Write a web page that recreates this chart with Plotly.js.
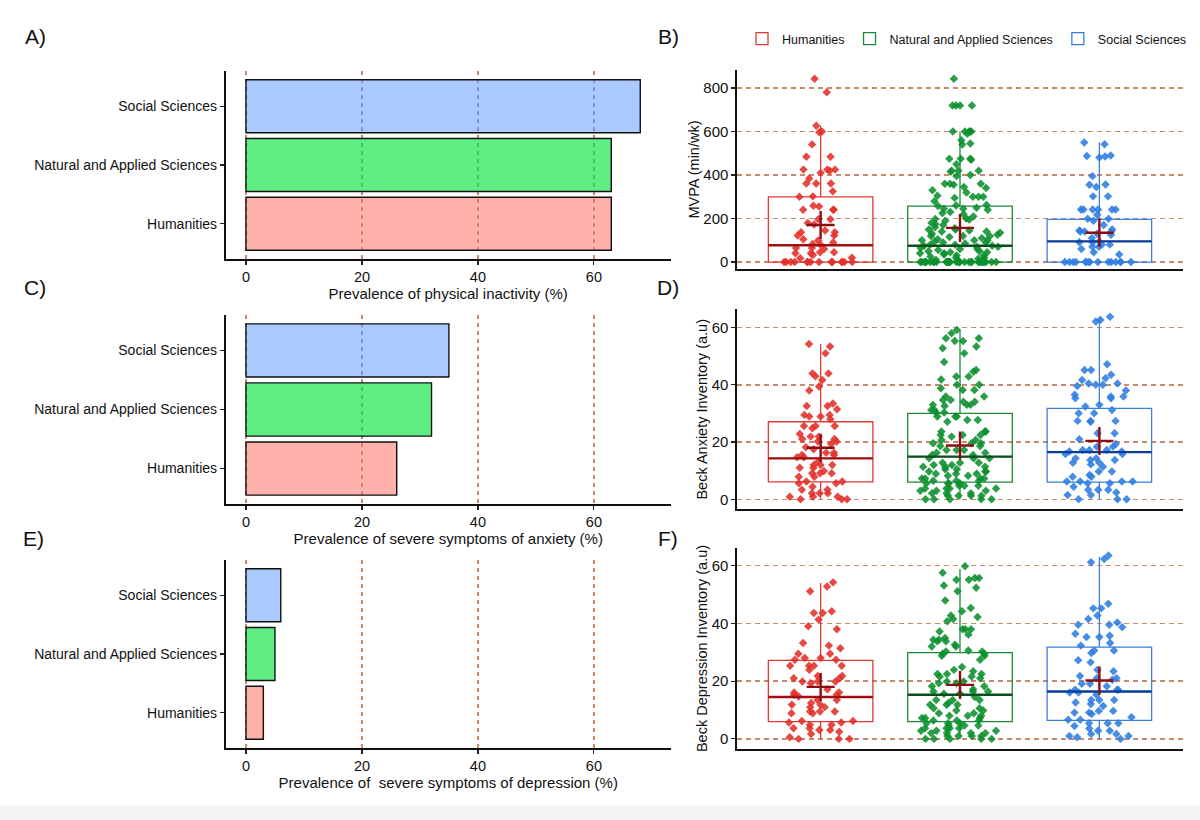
<!DOCTYPE html>
<html>
<head>
<meta charset="utf-8">
<script src="https://cdn.plot.ly/plotly-3.0.1.min.js"></script>
<style>html,body{margin:0;padding:0;background:#fff;}#chart{width:1200px;height:820px;}</style>
</head>
<body>
<div id="chart"></div>
<script>
// ---------- data ----------
const groups = ['Humanities', 'Natural and Applied Sciences', 'Social Sciences'];
const inactivityPrev = [63, 63, 68];
const anxietyPrev = [26, 32, 35];
const depressionPrev = [3, 5, 6];
const barTicks = [0, 20, 40, 60];
const mvpaTicks = [0, 200, 400, 600, 800];
const beckTicks = [0, 20, 40, 60];

// MVPA (min/wk) – box statistics
const mvpaQ1 = [0, 0, 0];
const mvpaMedian = [77, 75, 95];
const mvpaQ3 = [300, 257, 196];
const mvpaLower = [0, 0, 0];
const mvpaUpper = [625, 600, 550];
const mvpaMean = [170, 157, 135];

// Beck Anxiety Inventory
const baiQ1 = [6.1, 6.0, 6.0];
const baiMedian = [14.3, 14.9, 16.5];
const baiQ3 = [27.1, 30.0, 31.8];
const baiLower = [0, 0, 0];
const baiUpper = [54.3, 59.2, 63.8];
const baiMean = [18.0, 18.8, 20.4];

// Beck Depression Inventory
const bdiQ1 = [6.0, 6.0, 6.4];
const bdiMedian = [14.5, 15.3, 16.4];
const bdiQ3 = [27.2, 29.9, 31.8];
const bdiLower = [0, 0, 0];
const bdiUpper = [54.0, 58.8, 63.0];
const bdiMean = [18.0, 18.7, 20.2];

// individual observations (read from the jittered points)
const humMvpa = [843, 781, 627, 600, 597, 541, 484, 484, 425, 425, 425, 420, 410, 384, 361, 361, 361, 325, 302, 300, 259, 255, 240, 240, 240, 197, 197, 180, 173, 145, 137, 137, 122, 122, 105, 99, 90, 83, 80, 65, 65, 60, 45, 45, 40, 40, 32, 20, 18, 0, 0, 0, 0, 0, 0, 0, 0, 0, 0, 0, 0, 0, 0];
const natMvpa = [843, 720, 720, 720, 720, 600, 600, 600, 600, 600, 590, 560, 545, 540, 475, 475, 475, 470, 450, 420, 420, 420, 415, 400, 395, 360, 360, 360, 355, 345, 340, 330, 320, 305, 300, 300, 300, 295, 280, 262, 260, 258, 250, 245, 245, 240, 230, 225, 220, 210, 200, 198, 195, 190, 180, 175, 170, 160, 155, 150, 150, 145, 140, 140, 135, 130, 125, 120, 120, 120, 115, 110, 105, 100, 100, 100, 95, 90, 90, 85, 80, 80, 75, 75, 70, 70, 65, 60, 60, 55, 50, 50, 45, 45, 40, 40, 35, 30, 30, 25, 20, 20, 15, 10, 0, 0, 0, 0, 0, 0, 0, 0, 0, 0, 0, 0, 0, 0, 0, 0, 0, 0, 0, 0, 0, 0, 0, 0, 0, 0, 0, 0, 0, 0, 0, 0, 0, 0, 0];
const socMvpa = [550, 542, 490, 488, 485, 481, 395, 357, 355, 345, 302, 302, 242, 242, 242, 242, 242, 242, 217, 199, 199, 190, 170, 150, 145, 140, 140, 140, 130, 125, 110, 95, 91, 91, 80, 80, 70, 70, 60, 45, 35, 0, 0, 0, 0, 0, 0, 0, 0, 0, 0, 0, 0, 0, 0, 0];

const humBai = [54.3, 53.4, 51, 44, 44, 43, 41.7, 39.4, 38, 33.5, 32.6, 32.6, 31.5, 29.5, 29.5, 28.9, 28.9, 28, 25.6, 25.6, 25.6, 24.8, 22.8, 21.9, 21.9, 21.1, 21.1, 20.2, 20.2, 19.3, 18.2, 17.5, 16.3, 16.3, 15.5, 15.5, 14.7, 14.7, 13.2, 12, 12, 12, 11, 11, 9.9, 9.1, 9.1, 9.1, 7.9, 7.9, 6.2, 6.2, 5.6, 5.6, 4.4, 3.3, 3.3, 2.1, 2.1, 2.1, 0.9, 0.9, 0.9, 0, 0, 0];
const natBai = [59.2, 58, 56.3, 56.3, 55.3, 55.3, 53.4, 52.8, 51, 48, 45.2, 44.6, 42.9, 42.9, 41.9, 40, 40, 38.8, 38.2, 38.2, 35.9, 35.9, 34.7, 34.7, 34.1, 34.1, 33, 33, 33, 32.6, 31.2, 31.2, 30.3, 30.3, 28.9, 28.9, 28.9, 27.7, 27.7, 27.1, 23.7, 23.7, 23.7, 22.5, 22.5, 22.5, 21.9, 20.7, 20.7, 19.6, 19.6, 19.6, 18.6, 18.6, 17.2, 17.2, 17.2, 16.3, 16.3, 15.5, 15.5, 14.3, 14.3, 14.3, 12.8, 12.8, 12.8, 12, 12, 11.4, 11.4, 11.4, 10.5, 10.5, 9.7, 9.7, 9.7, 8.9, 8.9, 8.9, 8.2, 8.2, 7.3, 7.3, 7.3, 7.3, 6.5, 6.5, 6.5, 5.6, 5.6, 5.6, 5.6, 4.7, 4.7, 4.7, 3.8, 3.8, 3.8, 3.8, 3, 3, 3, 2.1, 2.1, 2.1, 1.2, 1.2, 1.2, 1.2, 0, 0, 0, 0, 0];
const socBai = [63.8, 62.7, 62.1, 47.2, 45.2, 45.2, 43.5, 42.3, 41.7, 40.5, 40.5, 40, 40, 39.6, 38, 36.5, 35.9, 35.9, 35.3, 35.3, 33, 32.4, 31.2, 30.1, 30.1, 27.4, 27.4, 27.4, 27.1, 23.1, 23.1, 21, 19.3, 18.4, 18.4, 17.2, 17.2, 17.2, 16.7, 16.7, 15.8, 15.8, 14.3, 14.3, 13.7, 13.7, 12.8, 12.8, 12.2, 11.4, 9.7, 9.7, 8.5, 7.9, 7.9, 6.2, 6.2, 6.2, 6.2, 5.6, 5.6, 4.4, 3.3, 3.3, 3.3, 2.4, 1.5, 1.5, 0, 0, 0];

const humBdi = [54.2, 52.8, 51.1, 44.2, 43.6, 43.6, 41.3, 39, 38, 33.2, 32.3, 31.4, 29.5, 29.5, 28, 28, 27.4, 27.4, 25.3, 25.3, 25.3, 25.3, 23.9, 21.8, 21.8, 21, 21, 19.9, 19.9, 19.9, 19.3, 17.2, 16.1, 16.1, 15.3, 15.3, 14.7, 13.5, 13.5, 12.4, 11.8, 11.8, 11, 11, 9.5, 9.5, 9.5, 8.9, 8.9, 6.2, 6.2, 5.7, 5.7, 4.9, 4.9, 3.7, 3.7, 3.1, 3.1, 2.5, 1.7, 0.6, 0, 0, 0];
const natBdi = [59.8, 57.5, 55.7, 55.7, 55.1, 55.1, 53.1, 52.3, 51.1, 47.9, 45.3, 44.2, 42.7, 42.2, 41.5, 40.7, 38, 38, 38, 37.2, 36.1, 34.9, 34.3, 34.3, 33.8, 33.8, 32.6, 32, 32, 30.6, 30.3, 30.3, 29.5, 29.5, 28.8, 28.8, 27.4, 24.9, 23.9, 23.4, 22.5, 22.5, 22.5, 21.6, 21.6, 21, 19.9, 19.9, 19.3, 19.3, 18.2, 18.2, 17.2, 16.4, 16.4, 16.4, 15.6, 15.6, 14.5, 13.5, 13.5, 13.5, 12.4, 11.8, 11.8, 11.8, 10.6, 10.6, 9.8, 9.8, 8.9, 8.9, 8, 8, 8, 7.2, 7.2, 7.2, 6.4, 6.4, 6.4, 5.4, 5.4, 5.4, 4.6, 4.6, 4.6, 3.7, 3.7, 3.7, 3.7, 2.8, 2.8, 2.8, 2, 2, 2, 2, 1, 1, 1, 1, 0, 0, 0, 0, 0];
const socBdi = [63.5, 62.3, 61.2, 46.8, 45.2, 45.2, 42.7, 41.5, 40.3, 39.5, 39.5, 38.7, 36.4, 35.7, 35.3, 35.3, 33.2, 32.3, 30.6, 30.6, 29.7, 27.2, 26.5, 23.9, 23.4, 21.8, 21, 21, 20.5, 19.1, 19.1, 18.2, 17, 17, 17, 16.1, 16.1, 15.3, 13.5, 13.5, 13.5, 12.6, 12.1, 11.4, 9.7, 9.7, 9.1, 9.1, 8.6, 7.5, 6.6, 6.6, 5.4, 5.4, 5.4, 4.5, 3.6, 2.8, 2.8, 1.7, 1.7, 1, 1, 0.6, 0];

// ---------- styles ----------
const barFill = ['rgba(255,115,104,0.55)', 'rgba(7,229,66,0.65)', 'rgba(99,157,255,0.55)'];
const pointColor = ['#e2302a', '#0b8f2e', '#2f7de1'];
const boxLine = ['#e03a32', '#1b8a38', '#3b80dc'];
const medianLine = ['#9e1010', '#0d4f1c', '#0b3d9a'];
const meanColor = '#8b0d10';
const gridBrown = '#c68b6e';
const regular = "'Liberation Sans', Arial, Helvetica, sans-serif";

const traces = [];

function barPanel(vals, xa, ya) {
  traces.push({
    type: 'bar', orientation: 'h', x: vals, y: groups,
    xaxis: xa, yaxis: ya, width: 0.9,
    marker: { color: barFill, line: { color: '#111', width: 1.4 } },
    showlegend: false, hoverinfo: 'x+y'
  });
}
barPanel(inactivityPrev, 'x', 'y');
barPanel(anxietyPrev, 'x3', 'y3');
barPanel(depressionPrev, 'x5', 'y5');

function boxPanel(samples, q1, med, q3, lo, hi, mean, xa, ya, legend) {
  for (let i = 0; i < 3; i++) {
    // box outline with whiskers
    traces.push({
      type: 'box', name: groups[i], x: [groups[i]],
      q1: [q1[i]], median: [med[i]], q3: [q3[i]],
      lowerfence: [lo[i]], upperfence: [hi[i]],
      xaxis: xa, yaxis: ya, width: 0.75, whiskerwidth: 0,
      boxpoints: false,
      line: { color: boxLine[i], width: 1.3 },
      fillcolor: 'rgba(255,255,255,0)',
      showlegend: legend, legendgroup: groups[i]
    });
    // jittered observations
    traces.push({
      type: 'box', name: groups[i], x: samples[i].map(() => groups[i]), y: samples[i],
      xaxis: xa, yaxis: ya, width: 0.75,
      boxpoints: 'all', jitter: 0.78, pointpos: 0,
      line: { color: 'rgba(0,0,0,0)', width: 0 },
      fillcolor: 'rgba(0,0,0,0)',
      marker: { symbol: 'diamond', size: 6.5, color: pointColor[i], opacity: 0.88 },
      showlegend: false, legendgroup: groups[i], hoveron: 'points'
    });
    // thicker, darker median bar
    traces.push({
      type: 'box', name: groups[i], x: [groups[i]],
      q1: [med[i]], median: [med[i]], q3: [med[i]],
      lowerfence: [med[i]], upperfence: [med[i]],
      xaxis: xa, yaxis: ya, width: 0.75, whiskerwidth: 0,
      boxpoints: false,
      line: { color: medianLine[i], width: 2.4 },
      fillcolor: 'rgba(0,0,0,0)',
      showlegend: false, legendgroup: groups[i], hoverinfo: 'skip'
    });
  }
  // mean "+"
  traces.push({
    type: 'scatter', mode: 'markers', x: groups, y: mean,
    xaxis: xa, yaxis: ya,
    marker: { symbol: 'cross-thin', size: 20, color: meanColor, line: { color: meanColor, width: 2.4 } },
    showlegend: false, hoverinfo: 'y'
  });
}
boxPanel([humMvpa, natMvpa, socMvpa], mvpaQ1, mvpaMedian, mvpaQ3, mvpaLower, mvpaUpper, mvpaMean, 'x2', 'y2', true);
boxPanel([humBai, natBai, socBai], baiQ1, baiMedian, baiQ3, baiLower, baiUpper, baiMean, 'x4', 'y4', false);
boxPanel([humBdi, natBdi, socBdi], bdiQ1, bdiMedian, bdiQ3, bdiLower, bdiUpper, bdiMean, 'x6', 'y6', false);

// ---------- axes ----------
const W = 1200, H = 820;
const fx = p => p / W;
const fy = p => 1 - p / H;

function barX(title) {
  return {
    domain: [fx(225.5), fx(671)], range: [-3.53, 73.3],
    tickvals: barTicks, ticks: 'outside', ticklen: 4, tickcolor: '#222', tickwidth: 1.2,
    showline: true, linecolor: '#111', linewidth: 1.6, zeroline: false,
    showgrid: true, gridcolor: gridBrown, griddash: '4px,4px', gridwidth: 1.5,
    tickfont: { family: regular, size: 14.5, color: '#111' },
    title: { text: title, font: { family: regular, size: 15, color: '#111' }, standoff: 2 },
    fixedrange: true
  };
}
function barY(top, bottom) {
  return {
    domain: [fy(bottom), fy(top)], type: 'category', categoryorder: 'array', categoryarray: groups,
    range: [-0.6, 2.6], ticks: 'outside', ticklen: 4, tickcolor: '#222', tickwidth: 1.2,
    showline: true, linecolor: '#111', linewidth: 1.6, showgrid: false, zeroline: false,
    tickfont: { family: regular, size: 14, color: '#111' }, fixedrange: true
  };
}
function boxX() {
  return {
    domain: [fx(737), fx(1183)], type: 'category', categoryorder: 'array', categoryarray: groups,
    range: [-0.6, 2.6], showticklabels: false, ticks: '', showline: true, linecolor: '#111',
    linewidth: 1.6, showgrid: false, zeroline: false, fixedrange: true
  };
}
function boxY(top, bottom, range, ticks, title) {
  return {
    domain: [fy(bottom), fy(top)], range: range, tickvals: ticks,
    ticks: 'outside', ticklen: 4, tickcolor: '#222', tickwidth: 1.2,
    showline: true, linecolor: '#111', linewidth: 1.6, zeroline: false,
    showgrid: true, gridcolor: gridBrown, griddash: '5px,4px', gridwidth: 1.5,
    tickfont: { family: regular, size: 15, color: '#111' },
    title: { text: title, font: { family: regular, size: 14.5, color: '#111' }, standoff: 0 },
    fixedrange: true
  };
}

const xA = barX('Prevalence of physical inactivity (%)'); xA.anchor = 'y';
const xC = barX('Prevalence of severe symptoms of anxiety (%)'); xC.anchor = 'y3';
const xE = barX('Prevalence of  severe symptoms of depression (%)'); xE.anchor = 'y5';
const yA = barY(71, 259); yA.anchor = 'x';
const yC = barY(315, 504); yC.anchor = 'x3';
const yE = barY(560, 748); yE.anchor = 'x5';
const xB = boxX(); xB.anchor = 'y2';
const xD = boxX(); xD.anchor = 'y4';
const xF = boxX(); xF.anchor = 'y6';
const yB = boxY(70, 269, [-32, 883], mvpaTicks, 'MVPA (min/wk)'); yB.anchor = 'x2';
const yD = boxY(309.3, 509.3, [-3.5, 66.4], beckTicks, 'Beck Anxiety Inventory (a.u)'); yD.anchor = 'x4';
const yF = boxY(548, 749, [-3.5, 66.1], beckTicks, 'Beck Depression Inventory (a.u)'); yF.anchor = 'x6';

const panelLabels = [['A)', 35, 36], ['B)', 668, 36], ['C)', 35, 287], ['D)', 668, 287], ['E)', 33, 538], ['F)', 668, 538]];

const layout = {
  width: W, height: H,
  margin: { l: 0, r: 0, t: 0, b: 0 },
  paper_bgcolor: '#ffffff', plot_bgcolor: 'rgba(0,0,0,0)',
  font: { family: regular, color: '#111' },
  boxmode: 'overlay',
  xaxis: xA, yaxis: yA,
  xaxis2: xB, yaxis2: yB,
  xaxis3: xC, yaxis3: yC,
  xaxis4: xD, yaxis4: yD,
  xaxis5: xE, yaxis5: yE,
  xaxis6: xF, yaxis6: yF,
  showlegend: true,
  legend: {
    orientation: 'h', x: fx(742), y: fy(24), xanchor: 'left', yanchor: 'top',
    font: { family: regular, size: 12.5, color: '#111' }, bgcolor: 'rgba(0,0,0,0)',
    itemwidth: 30, traceorder: 'normal'
  },
  annotations: panelLabels.map(p => ({
    text: p[0], x: fx(p[1]), y: fy(p[2]), xref: 'paper', yref: 'paper',
    xanchor: 'center', yanchor: 'middle', showarrow: false,
    font: { family: regular, size: 21, color: '#111' }
  })),
  shapes: [{
    type: 'rect', xref: 'paper', yref: 'paper', x0: 0, x1: 1, y0: 0, y1: fy(805),
    fillcolor: '#f4f5f7', line: { width: 0 }, layer: 'below'
  }]
};

Plotly.newPlot('chart', traces, layout, { staticPlot: true, displayModeBar: false });
</script>
</body>
</html>
